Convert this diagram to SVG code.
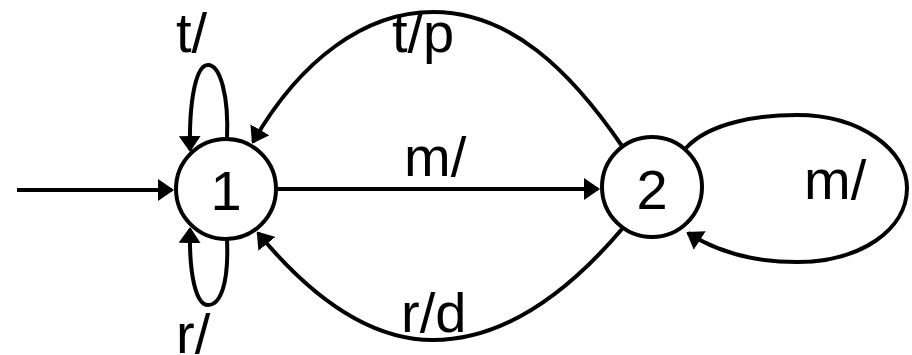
<svg xmlns="http://www.w3.org/2000/svg" width="912" height="355" viewBox="0 0 912 355">
<style>
.edge{fill:none;stroke:#000;stroke-width:4;}
.node circle{fill:#fff;stroke:#000;stroke-width:4;}
text{font-family:"Liberation Sans",Arial,sans-serif;font-size:56px;fill:#000;}
</style>
<defs>
<marker id="arr" markerUnits="userSpaceOnUse" viewBox="0 0 16 22" refX="14" refY="11" markerWidth="16" markerHeight="22" orient="auto">
<path d="M0,0 L16,11 L0,22 Z" fill="#000"/>
</marker>
</defs>
<rect width="912" height="355" fill="#fff"/>
<g id="connectors">
<path class="edge" d="M17,190 L172,190" marker-end="url(#arr)"/>
<path class="edge" d="M278,189 L598,189" marker-end="url(#arr)"/>
<path class="edge" d="M622,146 C570,70 510,12 433,12 C365,12 300,60 253,142" marker-end="url(#arr)"/>
<path class="edge" d="M622,229 C570,290 505,340 433,340 C365,340 305,290 258,233" marker-end="url(#arr)"/>
<path class="edge" d="M227,140 C229,95 220,65 208,65 C196,65 189,100 190,150" marker-end="url(#arr)"/>
<path class="edge" d="M227,239 C229,285 220,305 208,305 C196,305 189,275 190,229" marker-end="url(#arr)"/>
<path class="edge" d="M686,148 C710,122 760,115 797,115 C860,115 907,150 907,188 C907,230 860,262 797,262 C760,262 722,255 688,233" marker-end="url(#arr)"/>
<text x="392" y="52">t/p</text>
<text x="404" y="176">m/</text>
<text x="401" y="332">r/d</text>
<text x="176" y="52">t/</text>
<text x="176" y="353">r/</text>
<text x="804" y="199">m/</text>
</g>
<g id="node1" class="node">
<circle cx="226" cy="189" r="50"/>
<text x="226" y="210" text-anchor="middle">1</text>
</g>
<g id="node2" class="node">
<circle cx="652" cy="187" r="50"/>
<text x="652" y="209" text-anchor="middle">2</text>
</g>
</svg>
